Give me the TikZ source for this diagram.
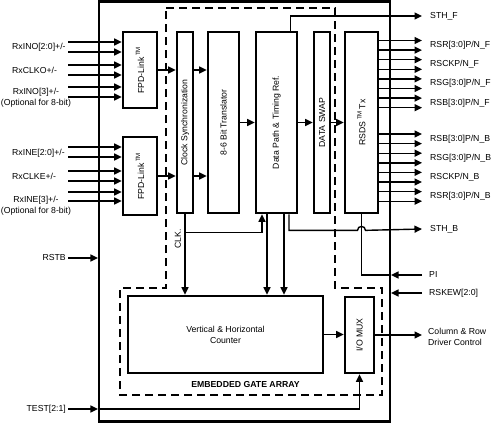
\documentclass[tikz,border=0pt]{standalone}
\usepackage{fontspec}
\setmainfont{Liberation Sans}
\usetikzlibrary{arrows.meta, calc}

\begin{document}
\begin{tikzpicture}[x=1pt, y=1pt,
    every node/.style={font=\fontsize{8.7}{11}\selectfont, inner sep=0pt},
    blk/.style={draw, line width=2.7pt},
    tall/.style={blk, minimum height=181pt},
    vtxt/.style={rotate=90},
    arr/.style={-{Triangle[length=7.5pt,width=7pt]}, line width=1.4pt},
    wire/.style={line width=1.4pt}]
\useasboundingbox (0,0) rectangle (492,-423);

% chip outline and gate array region
\node[draw, line width=2.2pt, minimum width=291pt, minimum height=420pt] (chip) at (244.5,-211.5) {};
\draw[line width=2.8pt, dash pattern=on 8pt off 5pt] (166,-8) -- (335,-8) -- (335,-288) -- (382,-288)
    -- (382,-395) -- (120,-395) -- (120,-288) -- (166,-288) -- cycle;

% receivers
\node[blk, minimum width=34pt, minimum height=76pt] (fpdA) at (140,-70) {};
\node[vtxt] (fpdA-t) at (fpdA) {FPD-Link\,\textsuperscript{TM}};
\node[blk, minimum width=34pt, minimum height=78pt] (fpdB) at (140,-176) {};
\node[vtxt] (fpdB-t) at (fpdB) {FPD-Link\,\textsuperscript{TM}};

% data path
\node[tall, minimum width=16pt] (clksync) at (185,-122.5) {};
\node[vtxt] (clksync-t) at (clksync) {Clock Synchronization};
\node[tall, minimum width=31pt] (trans) at (223.5,-122.5) {};
\node[vtxt] (trans-t) at (trans) {8-6 Bit Translator};
\node[tall, minimum width=41pt] (dpath) at (276.5,-122.5) {};
\node[vtxt] (dpath-t) at (dpath) {Data Path \& Timing Ref.};
\node[tall, minimum width=16pt] (dswap) at (322,-122.5) {};
\node[vtxt] (dswap-t) at (dswap) {DATA SWAP};
\node[tall, minimum width=33pt] (rsds) at (361.5,-122.5) {};
\node[vtxt] (rsds-t) at (rsds) {RSDS\,\textsuperscript{TM}\,Tx};

% gate array
\node[blk, minimum width=195pt, minimum height=77pt, align=center] (counter) at (225.5,-334.5) {Vertical \& Horizontal\\Counter};
\node[blk, minimum width=29pt, minimum height=76pt] (iomux) at (359.5,-335) {};
\node[vtxt] (iomux-t) at (iomux) {I/O MUX};
\node[font=\fontsize{8.7}{11}\selectfont\bfseries] (ega) at (245.5,-384) {EMBEDDED GATE ARRAY};

% LVDS inputs
\foreach \y [count=\i] in {42,52,65,75,87,97} {
  \coordinate (inA\i) at (68,-\y);
  \draw[arr] (inA\i) -- (inA\i -| fpdA.west);
}
\foreach \y [count=\i] in {147,157,171,181,192,201} {
  \coordinate (inB\i) at (68,-\y);
  \draw[arr] (inB\i) -- (inB\i -| fpdB.west);
}
\node[anchor=west] (rxinoA) at (12,-47) {RxINO[2:0]+/-};
\node[anchor=west] (rxclko) at (12,-70) {RxCLKO+/-};
\node[align=center] (rxinoB) at (36,-97.3) {RxINO[3]+/-\\(Optional for 8-bit)};
\node[anchor=west] (rxineA) at (12,-153) {RxINE[2:0]+/-};
\node[anchor=west] (rxclke) at (12,-176.5) {RxCLKE+/-};
\node[align=center] (rxineB) at (36,-205.5) {RxINE[3]+/-\\(Optional for 8-bit)};

% control inputs
\coordinate (rstb) at (68,-258);
\node[anchor=east] (rstbL) at ([xshift=-2pt]rstb) {RSTB};
\draw[arr] (rstb) -- (rstb -| chip.west);
\coordinate (test) at (68,-409);
\node[anchor=east] (testL) at ([xshift=-2pt]test) {TEST[2:1]};
\draw[arr] (test) -- (test -| chip.west);
\draw[arr] (test -| chip.west) -| (iomux.south);

% internal flow
\draw[arr] (fpdA.east) -- (fpdA.east -| clksync.west);
\draw[arr] (fpdB.east) -- (fpdB.east -| clksync.west);
\draw[arr] (fpdA.east -| clksync.east) -- (fpdA.east -| trans.west);
\draw[arr] (fpdB.east -| clksync.east) -- (fpdB.east -| trans.west);
\draw[arr] (trans.east) -- (dpath.west);
\draw[arr] (dpath.east) -- (dswap.west);
\draw[arr] (dswap.east) -- (rsds.west);

% clock and counter links
\draw[arr] (clksync.south) -- (clksync.south |- counter.north);
\coordinate (clkb) at ($(clksync.south)+(0,-18)$);
\draw[arr] (clkb) -| ([xshift=-14.5pt]dpath.south);
\node[vtxt] (clkL) at (178,-239) {CLK.};
\draw[arr] ([xshift=-9.5pt]dpath.south) -- ([xshift=-9.5pt]dpath.south |- counter.north);
\draw[arr] ([xshift=7.5pt]dpath.south) -- ([xshift=7.5pt]dpath.south |- counter.north);
\draw[arr] (counter.east) -- (counter.east -| iomux.west);

% RSDS outputs
\foreach \y [count=\i] in {40.5,50.1,59.7,69.3,78.9,88.5,98.1,107.7,134,143.6,153.2,162.8,172.4,182,191.6,201.2} {
  \coordinate (out\i) at (422,-\y);
  \draw[arr] (out\i -| rsds.east) -- (out\i);
}
\node[anchor=west] (rsrF) at (430,-45.3) {RSR[3:0]P/N\_F};
\node[anchor=west] (rsckF) at (430,-64.5) {RSCKP/N\_F};
\node[anchor=west] (rsgF) at (430,-83.7) {RSG[3:0]P/N\_F};
\node[anchor=west] (rsbF) at (430,-102.9) {RSB[3:0]P/N\_F};
\node[anchor=west] (rsbB) at (430,-138.8) {RSB[3:0]P/N\_B};
\node[anchor=west] (rsgB) at (430,-158) {RSG[3:0]P/N\_B};
\node[anchor=west] (rsckB) at (430,-177.2) {RSCKP/N\_B};
\node[anchor=west] (rsrB) at (430,-196.4) {RSR[3:0]P/N\_B};

% start pulses and other pins
\coordinate (sthf) at (422,-16);
\draw[arr] ([xshift=14pt]dpath.north) |- (sthf);
\node[anchor=west] (sthfL) at (430,-16) {STH\_F};
\coordinate (sthb) at (422,-229);
\draw[arr] ([xshift=12.5pt]dpath.south) |- ($(rsds.south)+(-4,-16)$) arc[start angle=180, end angle=0, radius=4pt] -- (sthb);
\node[anchor=west] (sthbL) at (430,-229) {STH\_B};
\coordinate (pi) at (422,-275);
\draw[wire] (rsds.south) |- (pi -| chip.east);
\draw[arr] (pi) -- (pi -| chip.east);
\node[anchor=west] (piL) at (429,-275) {PI};
\coordinate (rskew) at (422,-293);
\draw[arr] (rskew) -- (rskew -| chip.east);
\node[anchor=west] (rskewL) at (429,-293) {RSKEW[2:0]};
\coordinate (drv) at (422,-335);
\draw[arr] (iomux.east) -- (drv);
\node[anchor=west, align=left] (drvL) at (428,-336.5) {Column \& Row\\Driver Control};
\end{tikzpicture}
\end{document}
